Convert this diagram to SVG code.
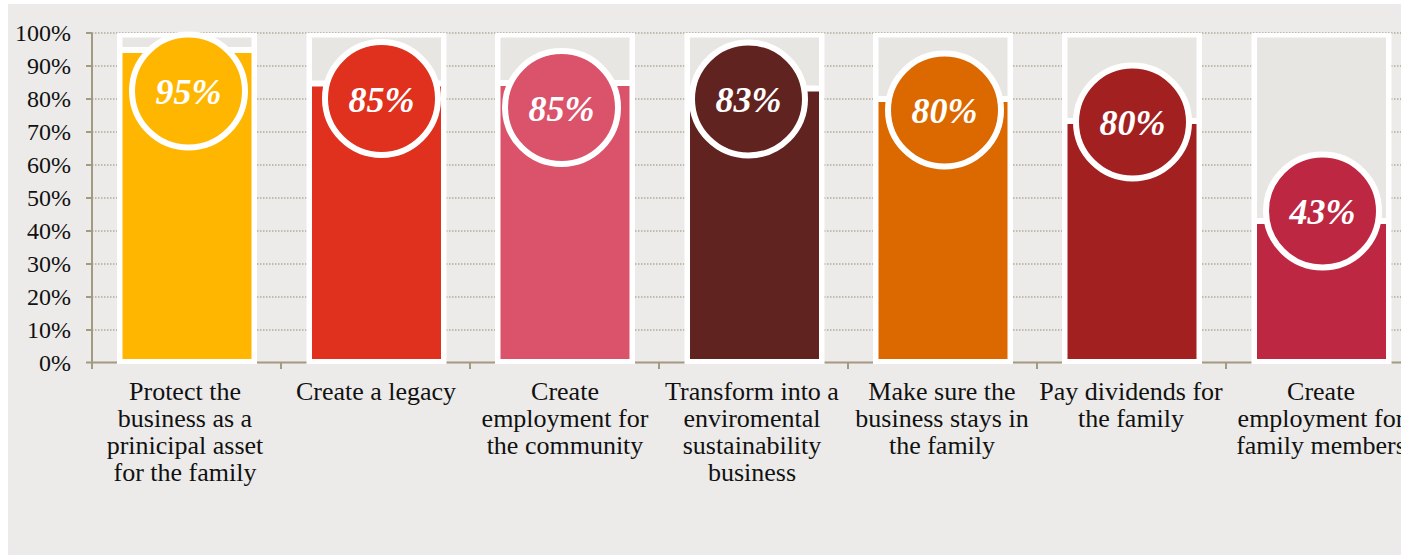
<svg xmlns="http://www.w3.org/2000/svg" width="1401" height="557" viewBox="0 0 1401 557">
<style>
.bg{fill:#ECEBE9}
.grid{stroke:#B3AC9B;stroke-width:1.5;stroke-dasharray:1.5 1.5;fill:none}
.axis{stroke:#A39A82;stroke-width:2;fill:none}
.ylab{font-family:"Liberation Serif",serif;font-size:24px;fill:#111;text-anchor:end}
.cat{font-family:"Liberation Serif",serif;font-size:26px;fill:#111;text-anchor:middle}
.col{fill:#FFFFFF}
.empty{fill:#E7E6E2}
.ring{stroke:#FFFFFF;stroke-width:6}
.pct{font-family:"Liberation Serif",serif;font-size:36px;font-weight:bold;font-style:italic;fill:#FFFFFF;text-anchor:middle}
</style>
<rect x="0" y="0" width="1401" height="557" fill="#FFFFFF"/>
<rect class="bg" x="8" y="4" width="1393" height="551"/>

<g id="grid">
<line class="grid" x1="92" y1="33" x2="1401" y2="33"/>
<line class="grid" x1="92" y1="66" x2="1401" y2="66"/>
<line class="grid" x1="92" y1="99" x2="1401" y2="99"/>
<line class="grid" x1="92" y1="132" x2="1401" y2="132"/>
<line class="grid" x1="92" y1="165" x2="1401" y2="165"/>
<line class="grid" x1="92" y1="198" x2="1401" y2="198"/>
<line class="grid" x1="92" y1="231" x2="1401" y2="231"/>
<line class="grid" x1="92" y1="264" x2="1401" y2="264"/>
<line class="grid" x1="92" y1="297" x2="1401" y2="297"/>
<line class="grid" x1="92" y1="330" x2="1401" y2="330"/>
</g>

<g id="axes">
<line class="axis" x1="92" y1="33" x2="92" y2="369"/>
<line class="axis" x1="91" y1="362.5" x2="1401" y2="362.5"/>
<path class="axis" d="M86 33H92M86 66H92M86 99H92M86 132H92M86 165H92M86 198H92M86 231H92M86 264H92M86 297H92M86 330H92M86 362.5H92"/>
<path class="axis" d="M281 362V369M470 362V369M659 362V369M848 362V369M1037 362V369M1226 362V369"/>
<text class="ylab" x="71" y="41">100%</text>
<text class="ylab" x="71" y="74">90%</text>
<text class="ylab" x="71" y="107">80%</text>
<text class="ylab" x="71" y="140">70%</text>
<text class="ylab" x="71" y="173">60%</text>
<text class="ylab" x="71" y="206">50%</text>
<text class="ylab" x="71" y="239">40%</text>
<text class="ylab" x="71" y="272">30%</text>
<text class="ylab" x="71" y="305">20%</text>
<text class="ylab" x="71" y="338">10%</text>
<text class="ylab" x="71" y="370.5">0%</text>
</g>

<g id="bar-1">
<rect class="col" x="117" y="33" width="140" height="331"/>
<rect class="empty" x="122.5" y="37.5" width="129" height="9.5"/>
<rect x="122.5" y="53" width="129" height="306" fill="#FFB600"/>
<circle class="ring" cx="188.5" cy="91" r="56.5" fill="#FFB600"/>
<text class="pct" x="188.5" y="104">95%</text>
<text class="cat" x="185"><tspan x="185" y="400">Protect the</tspan><tspan x="185" y="427">business as a</tspan><tspan x="185" y="454">prinicipal asset</tspan><tspan x="185" y="481">for the family</tspan></text>
</g>

<g id="bar-2">
<rect class="col" x="306.5" y="33" width="140" height="331"/>
<rect class="empty" x="312" y="37.5" width="129" height="43"/>
<rect x="312" y="86.5" width="129" height="272.5" fill="#E0301E"/>
<circle class="ring" cx="381.5" cy="98.5" r="56.5" fill="#E0301E"/>
<text class="pct" x="381.5" y="111.5">85%</text>
<text class="cat" x="376"><tspan x="376" y="400">Create a legacy</tspan></text>
</g>

<g id="bar-3">
<rect class="col" x="495" y="33" width="140" height="331"/>
<rect class="empty" x="500.5" y="37.5" width="129" height="42.5"/>
<rect x="500.5" y="86" width="129" height="273" fill="#DB536A"/>
<circle class="ring" cx="561.5" cy="107.5" r="56.5" fill="#DB536A"/>
<text class="pct" x="561.5" y="120.5">85%</text>
<text class="cat" x="565"><tspan x="565" y="400">Create</tspan><tspan x="565" y="427">employment for</tspan><tspan x="565" y="454">the community</tspan></text>
</g>

<g id="bar-4">
<rect class="col" x="684.5" y="33" width="140" height="331"/>
<rect class="empty" x="690" y="37.5" width="129" height="48"/>
<rect x="690" y="91.5" width="129" height="267.5" fill="#602320"/>
<circle class="ring" cx="748.5" cy="99" r="56.5" fill="#602320"/>
<text class="pct" x="748.5" y="112">83%</text>
<text class="cat" x="752"><tspan x="752" y="400">Transform into a</tspan><tspan x="752" y="427">enviromental</tspan><tspan x="752" y="454">sustainability</tspan><tspan x="752" y="481">business</tspan></text>
</g>

<g id="bar-5">
<rect class="col" x="873" y="33" width="140" height="331"/>
<rect class="empty" x="878.5" y="37.5" width="129" height="58.5"/>
<rect x="878.5" y="102" width="129" height="257" fill="#DC6900"/>
<circle class="ring" cx="944.5" cy="110" r="56.5" fill="#DC6900"/>
<text class="pct" x="944.5" y="123">80%</text>
<text class="cat" x="942"><tspan x="942" y="400">Make sure the</tspan><tspan x="942" y="427">business stays in</tspan><tspan x="942" y="454">the family</tspan></text>
</g>

<g id="bar-6">
<rect class="col" x="1062" y="33" width="140" height="331"/>
<rect class="empty" x="1067.5" y="37.5" width="129" height="80.5"/>
<rect x="1067.5" y="124" width="129" height="235" fill="#A32020"/>
<circle class="ring" cx="1132.5" cy="122" r="56.5" fill="#A32020"/>
<text class="pct" x="1132.5" y="135">80%</text>
<text class="cat" x="1131"><tspan x="1131" y="400">Pay dividends for</tspan><tspan x="1131" y="427">the family</tspan></text>
</g>

<g id="bar-7">
<rect class="col" x="1251.5" y="33" width="140" height="331"/>
<rect class="empty" x="1257" y="37.5" width="129" height="180.5"/>
<rect x="1257" y="224" width="129" height="135" fill="#BD2742"/>
<circle class="ring" cx="1322.5" cy="211" r="56.5" fill="#BD2742"/>
<text class="pct" x="1322.5" y="224">43%</text>
<text class="cat" x="1321"><tspan x="1321" y="400">Create</tspan><tspan x="1321" y="427">employment for</tspan><tspan x="1321" y="454">family members</tspan></text>
</g>
</svg>
